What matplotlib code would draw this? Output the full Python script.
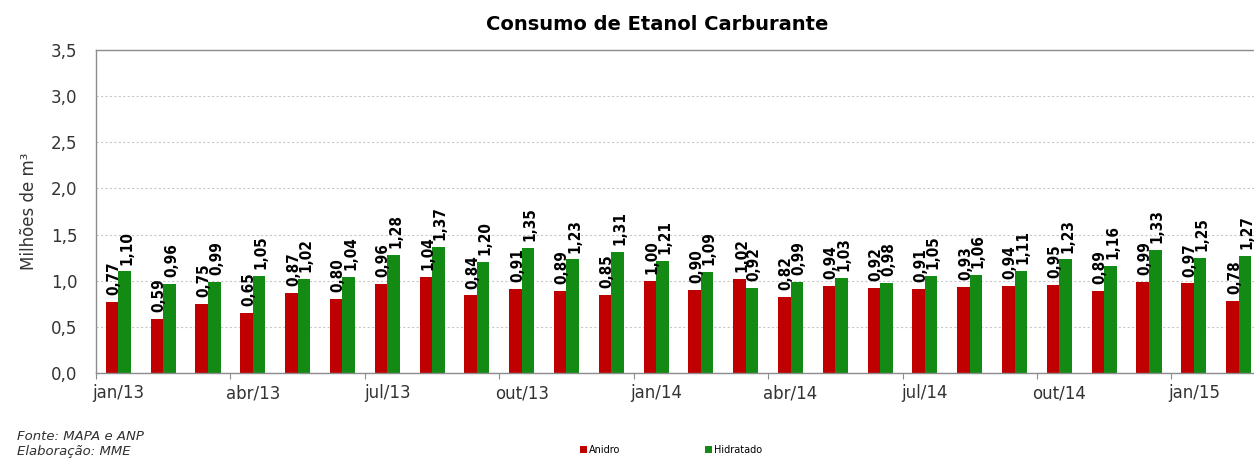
import numpy as np
import matplotlib.pyplot as plt

meses = ['jan/13', 'fev/13', 'mar/13', 'abr/13', 'mai/13', 'jun/13', 'jul/13', 'ago/13',
         'set/13', 'out/13', 'nov/13', 'dez/13', 'jan/14', 'fev/14', 'mar/14', 'abr/14',
         'mai/14', 'jun/14', 'jul/14', 'ago/14', 'set/14', 'out/14', 'nov/14', 'dez/14',
         'jan/15', 'fev/15']
anidro = [0.77, 0.59, 0.75, 0.65, 0.87, 0.80, 0.96, 1.04, 0.84, 0.91, 0.89, 0.85, 1.00,
          0.90, 1.02, 0.82, 0.94, 0.92, 0.91, 0.93, 0.94, 0.95, 0.89, 0.99, 0.97, 0.78]
hidratado = [1.10, 0.96, 0.99, 1.05, 1.02, 1.04, 1.28, 1.37, 1.20, 1.35, 1.23, 1.31, 1.21,
             1.09, 0.92, 0.99, 1.03, 0.98, 1.05, 1.06, 1.11, 1.23, 1.16, 1.33, 1.25, 1.27]

cor_anidro = '#C00000'
cor_hidratado = '#138A13'
cinza = '#333333'

fig = plt.figure(figsize=(12.54, 4.59), dpi=100)
W, H = 1254, 459
# plot area in pixels: left 96, right 1261 (runs off the right edge), top 50, bottom 373
ax = fig.add_axes([96 / W, 1 - 373 / H, (1261 - 96) / W, (373 - 50) / H])

x = np.arange(len(meses))
w = 0.28
b1 = ax.bar(x - w / 2, anidro, w, color=cor_anidro, label='Anidro')
b2 = ax.bar(x + w / 2, hidratado, w, color=cor_hidratado, label='Hidratado')

fmt = lambda v: f'{v:.2f}'.replace('.', ',')
for bars, vals in ((b1, anidro), (b2, hidratado)):
    for r, v in zip(bars, vals):
        ax.annotate(fmt(v), (r.get_x() + r.get_width() / 2, v), xytext=(1.5, 5),
                    textcoords='offset points', rotation=90, ha='center', va='bottom',
                    fontsize=11, fontweight='bold', fontstretch='condensed',
                    color='black')

ax.set_xlim(-0.5, len(meses) - 0.5)
ax.set_ylim(0, 3.5)
ax.set_yticks(np.arange(0, 3.51, 0.5))
ax.set_yticklabels([f'{v:.1f}'.replace('.', ',') for v in np.arange(0, 3.51, 0.5)],
                   fontsize=12, color=cinza)
ax.yaxis.grid(True, linestyle=(0, (2, 2)), color='#C8C8C8', linewidth=0.8)
ax.set_axisbelow(True)
ax.tick_params(axis='y', length=0, pad=13.5)

# major ticks at every third boundary, labels at the quarter months
ax.set_xticks(np.arange(-0.5, len(meses), 3))
ax.set_xticklabels([])
ax.tick_params(axis='x', which='major', length=4, direction='out', color='#8C8C8C')
ax.set_xticks(x[::3], minor=True)
ax.set_xticklabels(meses[::3], minor=True, fontsize=12, color=cinza)
ax.tick_params(axis='x', which='minor', length=0, pad=8)

for s in ('left', 'bottom', 'top', 'right'):
    ax.spines[s].set_color('#8C8C8C')
    ax.spines[s].set_linewidth(1.0)

ax.set_ylabel('Milhões de m³', fontsize=12, color=cinza, labelpad=9)

fig.text(657 / W, 1 - 25 / H, 'Consumo de Etanol Carburante', ha='center', va='center',
         fontsize=14, fontweight='bold', color='black')

fig.text(17 / W, 1 - 437 / H, 'Fonte: MAPA e ANP', fontsize=9.5, style='italic',
         color='#303030', va='center')
fig.text(17 / W, 1 - 452 / H, 'Elaboração: MME', fontsize=9.5, style='italic',
         color='#303030', va='center')

fig.legend(handles=[b1, b2], labels=['Anidro', 'Hidratado'], loc='center left',
           bbox_to_anchor=(571 / W, 1 - 450 / H), ncol=2, frameon=False, fontsize=7,
           handlelength=0.7, handleheight=0.7, handletextpad=0.25, columnspacing=8.7)

fig.savefig('out.png', dpi=100)
